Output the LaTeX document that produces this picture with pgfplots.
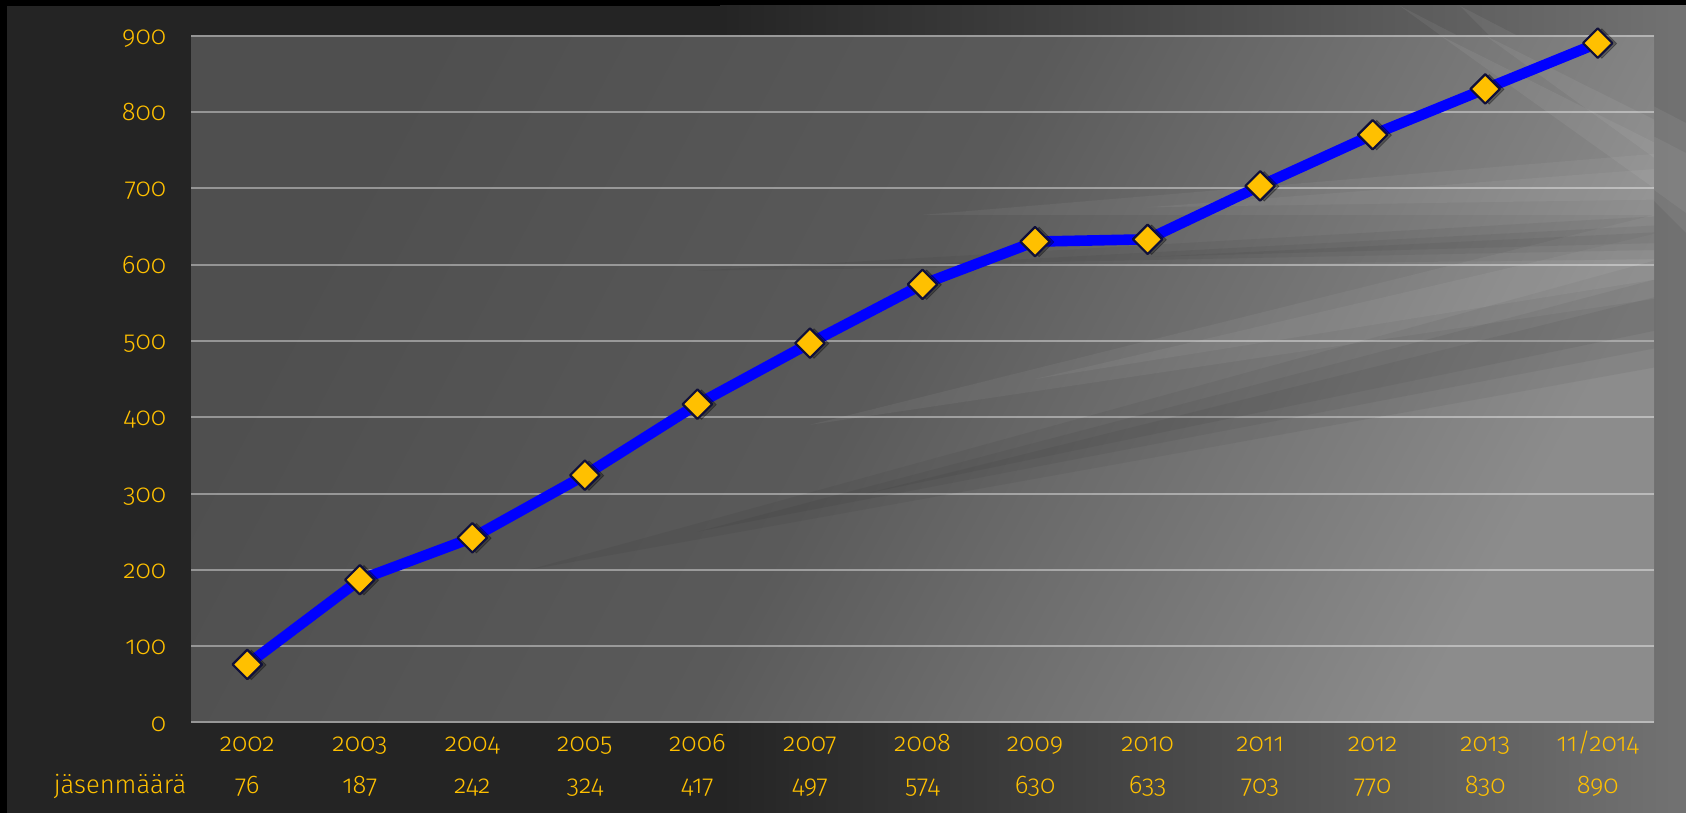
\documentclass[border=0pt]{standalone}
\usepackage{fontspec}
\setmainfont{Fira Sans Light}[Numbers=OldStyle, RawFeature=+onum]
\usepackage{pgfplots}
\pgfplotsset{compat=1.18}
\definecolor{gold}{HTML}{FFC000}
\definecolor{navy}{HTML}{10103A}
\definecolor{bgdark}{HTML}{242424}
\definecolor{bgright}{HTML}{727272}
\definecolor{paA}{HTML}{4F4F4F}
\definecolor{paB}{HTML}{5A5A5A}
\definecolor{paC}{HTML}{8C8C8C}
\pgfdeclarehorizontalshading{plotbg}{100bp}{color(0bp)=(paA); color(25bp)=(paA); color(48bp)=(paB); color(75bp)=(paC); color(100bp)=(paC)}
\newcommand{\lblfont}{\fontsize{12.8}{15}\selectfont}
% tapering streak: #1 colour, #2 opacity, (x0,y0) tip, (x1,y1) centre of the wide end, #7 half width (y units)
\newcommand{\streak}[7]{\fill[#1, opacity=#2] (axis cs:#3,#4) -- (axis cs:#5,#6-#7) -- (axis cs:#5,#6+#7) -- cycle;}
\begin{document}
\begin{tikzpicture}
% slide background
\fill[black] (0pt,0pt) rectangle (843pt,406.5pt);
\fill[bgdark] (3.5pt,0pt) rectangle (843pt,403.5pt);
\shade[left color=bgdark, right color=bgright] (360pt,0pt) rectangle (843pt,403.5pt);
\fill[white, opacity=0.06] (700pt,403.5pt) -- (843pt,330pt) -- (843pt,300pt) -- cycle;
\fill[white, opacity=0.06] (730pt,403.5pt) -- (843pt,345pt) -- (843pt,290pt) -- cycle;
\begin{axis}[
  at={(95.5pt,45.25pt)}, anchor=south west,
  scale only axis, width=731.5pt, height=343.5pt,
  xmin=-0.5, xmax=12.5, ymin=0, ymax=900,
  ytick={0,100,...,900},
  xtick={0,...,12},
  xticklabels={2002,2003,2004,2005,2006,2007,2008,2009,2010,2011,2012,2013,11/2014},
  extra x ticks={0,...,12},
  extra x tick labels={76,187,242,324,417,497,574,630,633,703,770,830,890},
  extra x tick style={grid=none, xticklabel style={yshift=-21pt}},
  axis line style={draw=none},
  tick style={draw=none},
  major tick length=0pt,
  ymajorgrids,
  grid style={white, opacity=0.4, line width=1pt},
  axis background/.style={shading=plotbg, shading angle=-28},
  ticklabel style={font=\lblfont, text=gold, inner sep=0pt},
  xticklabel style={anchor=base, yshift=-14.55pt},
  yticklabel style={anchor=base east, xshift=-12.2pt, yshift=-4.3pt},
  /pgf/number format/assume math mode=true,
  clip=false,
]
% soft background streaks of the plot area (stacked tapering wedges)
\streak{black}{0.05}{2.5}{200}{12.5}{535}{70}
\streak{black}{0.05}{4.0}{250}{12.5}{535}{45}
\streak{black}{0.05}{5.5}{300}{12.5}{535}{22}
\streak{white}{0.05}{5.0}{390}{12.5}{610}{55}
\streak{white}{0.05}{7.0}{450}{12.5}{610}{30}
\streak{black}{0.05}{4.0}{592}{12.5}{635}{28}
\streak{black}{0.05}{6.0}{600}{12.5}{635}{16}
\streak{black}{0.05}{8.0}{610}{12.5}{635}{7}
\streak{white}{0.05}{6.0}{665}{12.5}{705}{40}
\streak{white}{0.05}{8.0}{675}{12.5}{705}{20}
\fill[white, opacity=0.06] (axis cs:10.6,900) -- (axis cs:12.5,760) -- (axis cs:12.5,700) -- cycle;
\fill[white, opacity=0.06] (axis cs:11.0,900) -- (axis cs:12.5,790) -- (axis cs:12.5,740) -- cycle;
% marker shadows
\addplot[only marks, mark=square*, mark size=5.2pt,
  mark options={rotate=45, fill=black, draw=none, opacity=0.3, xshift=1.3pt, yshift=-1.6pt}]
  coordinates {(0,76) (1,187) (2,242) (3,324) (4,417) (5,497) (6,574) (7,630) (8,633) (9,703) (10,770) (11,830) (12,890)};
% series
\addplot[color=blue, line width=5.3pt, line join=round,
  mark=square*, mark size=5.2pt,
  mark options={rotate=45, fill=gold, draw=navy, line width=1.1pt, solid}]
  coordinates {(0,76) (1,187) (2,242) (3,324) (4,417) (5,497) (6,574) (7,630) (8,633) (9,703) (10,770) (11,830) (12,890)};
\end{axis}
\node[anchor=base, text=gold, font=\lblfont, inner sep=0pt] at (60pt,9.7pt) {jäsenmäärä};
\pgfresetboundingbox
\useasboundingbox (0pt,0pt) rectangle (843pt,406.5pt);
\end{tikzpicture}
\end{document}
